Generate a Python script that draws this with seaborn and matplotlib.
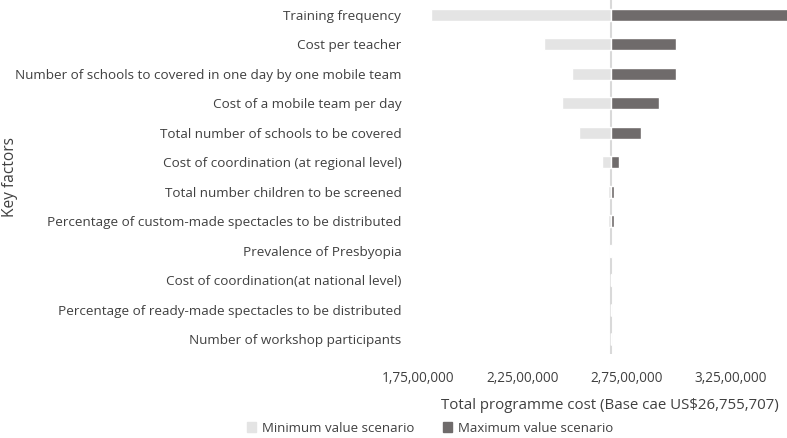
import numpy as np
import pandas as pd
import matplotlib
matplotlib.use('Agg')
import matplotlib.pyplot as plt
import matplotlib.ticker as mticker
from matplotlib.patches import Patch
import seaborn as sns

# 기준 비용 (base case)
base_cost = 26755707

factors = ['Training frequency',
           'Cost per teacher',
           'Number of schools to covered in one day by one mobile team',
           'Cost of a mobile team per day',
           'Total number of schools to be covered',
           'Cost of coordination (at regional level)',
           'Total number children to be screened',
           'Percentage of custom-made spectacles to be distributed',
           'Prevalence of Presbyopia',
           'Cost of coordination(at national level)',
           'Percentage of ready-made spectacles to be distributed',
           'Number of workshop participants']

min_cost = [18130000, 23560000, 24870000, 24390000, 25240000, 26330000,
            26630000, 26630000, 26730000, 26740000, 26750000, 26755000]
max_cost = [35300000, 29890000, 29860000, 29050000, 28210000, 27140000,
            26900000, 26880000, 26810000, 26800000, 26760000, 26756500]

xticks = [17500000, 22500000, 27500000, 32500000]

df = pd.DataFrame({'factor': factors,
                   'low': np.array(min_cost) - base_cost,
                   'high': np.array(max_cost) - base_cost})

sns.set_style('white')
plt.rcParams['font.family'] = ['Open Sans', 'DejaVu Sans']

fig = plt.figure(figsize=(7.87, 4.38), dpi=100)
ax = fig.add_axes([418/787, 1 - 354/438, 1 - 418/787, 354/438])

sns.barplot(data=df, x='low', y='factor', orient='h', left=base_cost,
            color='#e4e4e4', saturation=1, width=0.4, ax=ax)
sns.barplot(data=df, x='high', y='factor', orient='h', left=base_cost,
            color='#6f6b6b', saturation=1, width=0.4, ax=ax)
ax.axvline(base_cost, color='#d9d9d9', lw=1.5, zorder=0.5)

def indian_fmt(v, pos):
    s = str(int(round(v)))
    last3, rest = s[-3:], s[:-3]
    parts = []
    while len(rest) > 2:
        parts.insert(0, rest[-2:])
        rest = rest[:-2]
    if rest:
        parts.insert(0, rest)
    return ','.join(parts + [last3])

ax.set_xlim(17500000, 35200000)
ax.set_xticks(xticks)
ax.xaxis.set_major_formatter(mticker.FuncFormatter(indian_fmt))
ax.tick_params(axis='x', labelsize=9.8, labelcolor='#404040', length=0, pad=12)
ax.tick_params(axis='y', labelsize=9.7, labelcolor='#404040', length=0, pad=12)
sns.despine(ax=ax, left=True, bottom=True)
ax.set_ylabel('')
ax.set_xlabel('Total programme cost (Base cae US$26,755,707)', fontsize=10.8,
              color='#404040')
ax.xaxis.set_label_coords((610 - 418) / 369, -44 / 354)

fig.text(10/787, 1 - 177/438, 'Key factors', rotation=90, ha='center', va='center',
         fontsize=11.2, color='#404040')

handles = [Patch(color='#e4e4e4', label='Minimum value scenario'),
           Patch(color='#6f6b6b', label='Maximum value scenario')]
fig.legend(handles=handles, loc='center', bbox_to_anchor=(430/787, 1 - 428/438),
           ncol=2, frameon=False, fontsize=9.5, handlelength=0.7, handleheight=0.7,
           handletextpad=0.4, columnspacing=2.2, labelcolor='#404040')

plt.savefig('out.png', dpi=100)
